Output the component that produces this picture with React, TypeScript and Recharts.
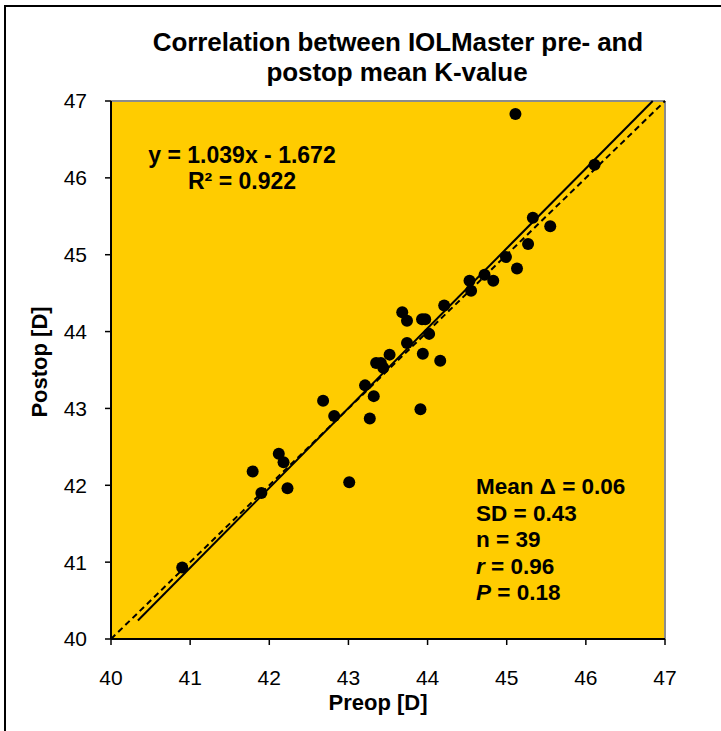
import React from 'react';
import {
  ScatterChart, Scatter, XAxis, YAxis, CartesianGrid, ReferenceLine,
} from 'recharts';

// preop / postop mean K (D)
const preop = [
  40.90, 41.79, 41.90, 42.12, 42.18, 42.23, 42.68, 42.82, 43.01, 43.21,
  43.27, 43.32, 43.35, 43.41, 43.44, 43.52, 43.68, 43.74, 43.74, 43.91,
  43.93, 43.94, 43.97, 44.02, 44.16, 44.21, 44.53, 44.55, 44.72, 44.83,
  44.99, 45.11, 45.13, 45.27, 45.33, 45.55, 46.11,
];
const postop = [
  40.93, 42.18, 41.90, 42.41, 42.30, 41.96, 43.10, 42.90, 42.04, 43.30,
  42.87, 43.16, 43.59, 43.59, 43.53, 43.70, 44.25, 43.85, 44.14, 42.99,
  44.16, 43.71, 44.16, 43.97, 43.62, 44.34, 44.66, 44.53, 44.74, 44.66,
  44.97, 46.83, 44.82, 45.14, 45.48, 45.37, 46.17,
];
const axisTicks = [40, 41, 42, 43, 44, 45, 46, 47];

const slope = 1.039;
const intercept = -1.672;
const trendStart = 40.34;

const statLines = [
  { label: 'Mean Δ', italic: false, value: '0.06' },
  { label: 'SD', italic: false, value: '0.43' },
  { label: 'n', italic: false, value: '39' },
  { label: 'r', italic: true, value: '0.96' },
  { label: 'P', italic: true, value: '0.18' },
];

const points = preop.map((x, i) => ({ x, y: postop[i] }));
const trendEnd = (47 - intercept) / slope;

const FONT = '"Liberation Sans", Arial, Helvetica, sans-serif';

const Dot = (props: any) => <circle cx={props.cx} cy={props.cy} r={6} fill="#000" />;

const App: React.FC = () => {
  const tickStyle = { fill: '#000', fontSize: 21, fontFamily: FONT };

  return (
    <div style={{ position: 'absolute', left: 0, top: 0, width: 721, height: 731, background: '#fff', overflow: 'hidden' }}>
      <ScatterChart width={721} height={731} margin={{ top: 101, right: 56, bottom: 42, left: 51 }}>
        <CartesianGrid fill="#FFCC00" horizontal={false} vertical={false} />
        <XAxis
          type="number"
          dataKey="x"
          domain={[40, 47]}
          ticks={axisTicks}
          allowDataOverflow
          height={50}
          tick={tickStyle}
          tickSize={6}
          tickMargin={25}
          axisLine={{ stroke: '#000', strokeWidth: 2 }}
          tickLine={{ stroke: '#000', strokeWidth: 1.5 }}
        />
        <YAxis
          type="number"
          dataKey="y"
          domain={[40, 47]}
          ticks={axisTicks}
          allowDataOverflow
          width={60}
          tick={tickStyle}
          tickSize={6}
          tickMargin={18}
          axisLine={{ stroke: '#000', strokeWidth: 2 }}
          tickLine={{ stroke: '#000', strokeWidth: 1.5 }}
        />
        <ReferenceLine y={47} stroke="#8c8c8c" strokeWidth={2} />
        <ReferenceLine x={47} stroke="#8c8c8c" strokeWidth={2} />
        <ReferenceLine
          segment={[{ x: 40, y: 40 }, { x: 47, y: 47 }]}
          stroke="#000"
          strokeWidth={2}
          strokeDasharray="6 4"
        />
        <ReferenceLine
          segment={[
            { x: trendStart, y: slope * trendStart + intercept },
            { x: trendEnd, y: 47 },
          ]}
          stroke="#000"
          strokeWidth={2}
        />
        <Scatter data={points} shape={Dot} isAnimationActive={false} />
      </ScatterChart>

      <svg
        width={721}
        height={731}
        style={{ position: 'absolute', left: 0, top: 0, pointerEvents: 'none' }}
        fontFamily={FONT}
      >
        <rect x={5} y={6} width={740} height={760} fill="none" stroke="#000" strokeWidth={2} />
        <text x={398} y={51} textAnchor="middle" fontSize={26} fontWeight="bold" letterSpacing={-0.1}>
          Correlation between IOLMaster pre- and
        </text>
        <text x={397} y={81} textAnchor="middle" fontSize={26} fontWeight="bold" letterSpacing={-0.1}>
          postop mean K-value
        </text>
        <text x={242} y={163} textAnchor="middle" fontSize={23} fontWeight="bold">
          y = {slope.toFixed(3)}x - {Math.abs(intercept).toFixed(3)}
        </text>
        <text x={242} y={189} textAnchor="middle" fontSize={23} fontWeight="bold">
          R² = 0.922
        </text>
        {statLines.map((s, i) => (
          <text key={s.label} x={476} y={494 + i * 26.5} fontSize={22.5} fontWeight="bold">
            <tspan fontStyle={s.italic ? 'italic' : 'normal'}>{s.label}</tspan>
            {` = ${s.value}`}
          </text>
        ))}
        <text x={378} y={710} textAnchor="middle" fontSize={22} fontWeight="bold">
          Preop [D]
        </text>
        <text
          x={0}
          y={0}
          textAnchor="middle"
          fontSize={22}
          fontWeight="bold"
          transform="translate(47 362) rotate(-90)"
        >
          Postop [D]
        </text>
      </svg>
    </div>
  );
};

export default App;
